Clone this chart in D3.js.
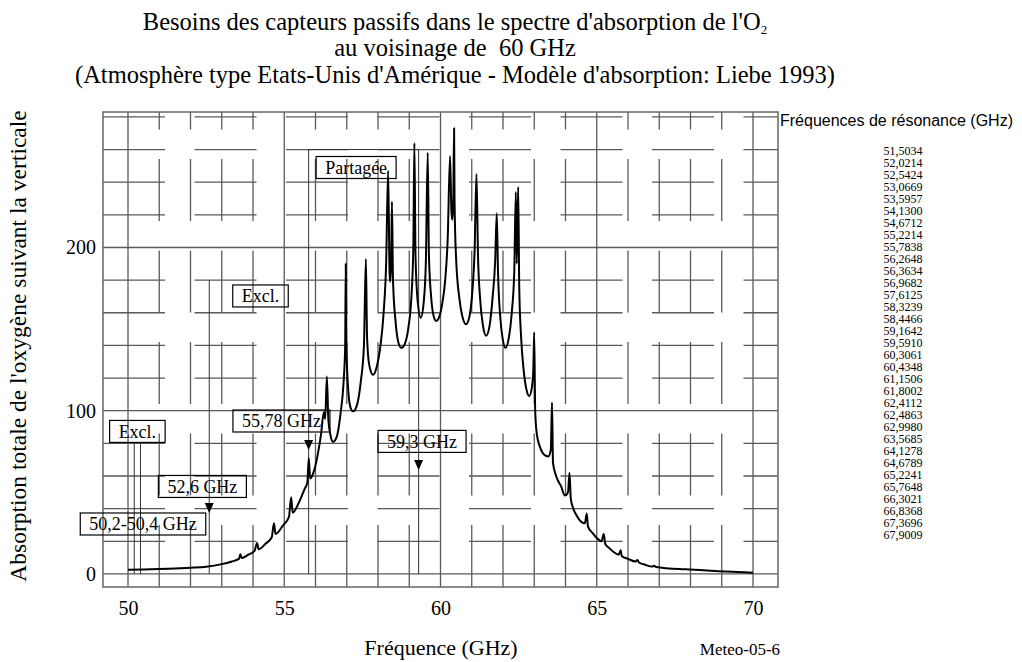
<!DOCTYPE html>
<html>
<head>
<meta charset="utf-8">
<script src="https://cdn.jsdelivr.net/npm/d3@7"></script>
<style>
  body { margin: 0; background: #fff; }
  svg { display: block; }
  text { font-family: "Liberation Serif", "Times New Roman", serif; fill: #000; }
</style>
</head>
<body>
<svg id="chart" width="1022" height="662"></svg>
<script>
// Axis ticks
const xTickValues = [50, 55, 60, 65, 70];
const yTickValues = [0, 100, 200];

// O2 resonance frequencies listed beside the plot (GHz)
const resonanceLines = [
  "51,5034", "52,0214", "52,5424", "53,0669", "53,5957", "54,1300", "54,6712",
  "55,2214", "55,7838", "56,2648", "56,3634", "56,9682", "57,6125", "58,3239",
  "58,4466", "59,1642", "59,5910", "60,3061", "60,4348", "61,1506", "61,8002",
  "62,4112", "62,4863", "62,9980", "63,5685", "64,1278", "64,6789", "65,2241",
  "65,7648", "66,3021", "66,8368", "67,3696", "67,9009"
];

// Zenith oxygen absorption spectrum: frequency (GHz) and total absorption
const spectrumFreq = [
  50.0, 50.5, 51.0, 51.5, 52.0, 52.5, 53.0, 53.3, 53.55, 53.5957, 53.64, 53.85, 54.05, 54.13, 54.18,
  54.4, 54.6, 54.6712, 54.72, 54.95, 55.15, 55.2214, 55.27, 55.45, 55.65, 55.74, 55.7838, 55.83,
  55.95, 56.08, 56.18, 56.2648, 56.31, 56.3634, 56.41, 56.48, 56.56, 56.68, 56.8, 56.9, 56.95,
  56.9682, 56.99, 57.05, 57.12, 57.2, 57.32, 57.45, 57.55, 57.6125, 57.65, 57.72, 57.84, 57.96,
  58.08, 58.18, 58.26, 58.3239, 58.37, 58.39, 58.42, 58.4466, 58.48, 58.56, 58.65, 58.75, 58.86,
  58.98, 59.07, 59.13, 59.1642, 59.2, 59.27, 59.37, 59.46, 59.53, 59.591, 59.63, 59.7, 59.78,
  59.86, 59.95, 60.05, 60.15, 60.23, 60.3061, 60.35, 60.38, 60.41, 60.4348, 60.45, 60.5, 60.61,
  60.71, 60.82, 60.93, 61.03, 61.09, 61.1506, 61.2, 61.27, 61.36, 61.46, 61.57, 61.67, 61.75,
  61.8002, 61.84, 61.91, 61.99, 62.08, 62.18, 62.28, 62.36, 62.4112, 62.44, 62.4863, 62.52, 62.58,
  62.66, 62.75, 62.84, 62.93, 62.97, 62.998, 63.03, 63.08, 63.18, 63.32, 63.45, 63.53, 63.5685,
  63.6, 63.7, 63.86, 63.98, 64.08, 64.1278, 64.17, 64.25, 64.35, 64.5, 64.62, 64.6789, 64.72,
  64.87, 65.0, 65.15, 65.2241, 65.27, 65.4, 65.55, 65.7, 65.7648, 65.8, 66.0, 66.25, 66.3021,
  66.35, 66.55, 66.78, 66.8368, 66.9, 67.3, 67.85, 68.4, 68.9, 69.5, 70.0
];
const spectrumAbs = [
  2.5, 2.7, 3.0, 3.4, 3.8, 4.4, 6.0, 7.5, 9.2, 12, 9.8, 11.8, 14.2, 19, 15.2,
  18.5, 22.5, 31, 24.5, 29.5, 35, 47, 37.5, 43, 52, 56, 71, 58.5,
  63, 74, 86, 99, 95, 121, 95, 85, 81, 84, 98, 118, 140,
  190, 140, 112, 102, 99.6, 103, 118, 140, 193, 145, 128, 122, 127,
  140, 160, 190, 247, 185, 179, 190, 228, 180, 155, 142, 138.5, 141,
  152, 170, 200, 264, 195, 167, 157, 166, 190, 258, 195, 170, 158,
  155, 157, 165, 180, 205, 256, 222, 217, 230, 273, 228, 193, 168,
  157, 153, 158, 176, 197, 245, 195, 168, 152, 146, 152, 170, 192,
  221, 185, 158, 144, 138.5, 144, 160, 185, 234, 190, 237, 175, 145,
  125, 113, 109, 115, 125, 148, 100, 86, 78, 73, 72, 76, 105,
  68, 60, 53.6, 48, 50, 62, 46, 40, 36, 32, 31, 37, 29,
  25, 22, 20, 24.5, 18.5, 15.8, 13.3, 11.8, 14.5, 11, 9.2, 7.6, 8.6,
  7, 5.6, 4.5, 5, 4.2, 3.4, 2.9, 2.2, 1.7, 1.2, 0.8
];

// Passive-sensing band limits (GHz) and the height of their outlines
const bandEdgeFreq = [50.2, 50.4, 52.6, 55.78, 59.3];
const bandEdgeTop = [80, 80, 180, 260, 260];
const sharedBandFreq = [55.78, 59.3];
const sharedBandTop = 260;

// Boxed annotations (centre in frequency / absorption units)
const labelTexts = ["Partagée", "Excl.", "Excl.", "55,78 GHz", "59,3 GHz", "52,6 GHz", "50,2-50,4 GHz"];
const labelFreq = [57.30, 54.24, 50.30, 54.91, 59.41, 52.38, 50.48];
const labelAbs = [249, 170.3, 87.3, 93.7, 81.2, 53.6, 30.6];

// Down-pointing markers at band limits (tip position)
const arrowFreq = [52.6, 55.78, 59.3];
const arrowAbs = [37.3, 75.9, 63.7];

const svg = d3.select("#chart");
const plot = { left: 103, right: 778, top: 112, bottom: 587 };

const x = d3.scaleLinear().domain([49.2, 70.8]).range([plot.left, plot.right]);
const y = d3.scaleLinear().domain([-8, 283]).range([plot.bottom, plot.top]);

// Title
const title = svg.append("g").attr("text-anchor", "middle").style("font-size", "24.5px");
const t1 = title.append("text").attr("x", 455).attr("y", 30);
t1.append("tspan").text("Besoins des capteurs passifs dans le spectre d'absorption de l'O");
t1.append("tspan").attr("dy", 4).style("font-size", "13px").text("2");
title.append("text").attr("x", 455).attr("y", 56).text("au voisinage de  60 GHz").style("white-space", "pre");
title.append("text").attr("x", 455).attr("y", 83)
  .text("(Atmosphère type Etats-Unis d'Amérique - Modèle d'absorption: Liebe 1993)");

// Grid: dashed minor lines, solid major lines
const gridColor = "#5a5a5a";
const grid = svg.append("g");
const minorX = d3.range(50, 71).filter(v => v % 5 !== 0);
const majorX = d3.range(50, 71, 5);
const minorY = d3.range(20, 281, 20).filter(v => v % 100 !== 0);
const majorY = d3.range(0, 201, 100);

grid.selectAll("line.mx").data(minorX).join("line")
  .attr("x1", d => x(d)).attr("x2", d => x(d))
  .attr("y1", plot.bottom).attr("y2", plot.top)
  .attr("stroke", gridColor).attr("stroke-width", 1.3)
  .attr("stroke-dasharray", "62 29.5");
grid.selectAll("line.my").data(minorY).join("line")
  .attr("x1", plot.left).attr("x2", plot.right)
  .attr("y1", d => y(d)).attr("y2", d => y(d))
  .attr("stroke", gridColor).attr("stroke-width", 1.3)
  .attr("stroke-dasharray", "62 29.5");
grid.selectAll("line.MX").data(majorX).join("line")
  .attr("x1", d => x(d)).attr("x2", d => x(d))
  .attr("y1", plot.bottom).attr("y2", plot.top)
  .attr("stroke", gridColor).attr("stroke-width", 1.3);
grid.selectAll("line.MY").data(majorY).join("line")
  .attr("x1", plot.left).attr("x2", plot.right)
  .attr("y1", d => y(d)).attr("y2", d => y(d))
  .attr("stroke", gridColor).attr("stroke-width", 1.3);

svg.append("rect")
  .attr("x", plot.left).attr("y", plot.top)
  .attr("width", plot.right - plot.left).attr("height", plot.bottom - plot.top)
  .attr("fill", "none").attr("stroke", "#666").attr("stroke-width", 1.5);

// Axes
const xAxis = svg.append("g")
  .attr("transform", `translate(0,${plot.bottom})`)
  .call(d3.axisBottom(x).tickValues(xTickValues).tickSize(0).tickPadding(14).tickFormat(d3.format("d")));
const yAxis = svg.append("g")
  .attr("transform", `translate(${plot.left},0)`)
  .call(d3.axisLeft(y).tickValues(yTickValues).tickSize(0).tickPadding(7).tickFormat(d3.format("d")));
[xAxis, yAxis].forEach(a => {
  a.select(".domain").remove();
  a.selectAll("text").style("font-family", "'Liberation Serif', serif").style("font-size", "20px").attr("fill", "#000");
});

// Band outlines
const bands = svg.append("g").attr("stroke", "#333").attr("stroke-width", 1).attr("fill", "none");
bands.selectAll("line.edge").data(bandEdgeFreq).join("line")
  .attr("x1", d => x(d)).attr("x2", d => x(d))
  .attr("y1", (d, i) => y(bandEdgeTop[i])).attr("y2", y(0));
bands.append("line")
  .attr("x1", x(sharedBandFreq[0])).attr("x2", x(sharedBandFreq[1]))
  .attr("y1", y(sharedBandTop)).attr("y2", y(sharedBandTop));

// Annotation boxes
const labels = svg.append("g");
labelTexts.forEach((txt, i) => {
  const g = labels.append("g");
  const tx = g.append("text")
    .attr("x", x(labelFreq[i])).attr("y", y(labelAbs[i]))
    .attr("text-anchor", "middle").attr("dy", "0.34em")
    .style("font-size", "18px").text(txt);
  const bb = tx.node().getBBox();
  g.insert("rect", "text")
    .attr("x", bb.x - 9).attr("width", bb.width + 18)
    .attr("y", y(labelAbs[i]) - 11).attr("height", 22)
    .attr("fill", "none").attr("stroke", "#000").attr("stroke-width", 1.2);
});

// Spectrum curve
const line = d3.line().x(i => x(spectrumFreq[i])).y(i => y(spectrumAbs[i])).curve(d3.curveMonotoneX);
svg.append("path")
  .attr("d", line(d3.range(spectrumFreq.length)))
  .attr("fill", "none").attr("stroke", "#000").attr("stroke-width", 2).attr("stroke-linejoin", "round");

// Markers
svg.append("g").selectAll("path").data(arrowFreq).join("path")
  .attr("d", (d, i) => {
    const px = x(d), py = y(arrowAbs[i]);
    return `M${px},${py}L${px - 4.5},${py - 10}L${px + 4.5},${py - 10}Z`;
  })
  .attr("fill", "#000");

// Axis titles and reference
svg.append("text")
  .attr("transform", "translate(26,346) rotate(-90)")
  .attr("text-anchor", "middle").style("font-size", "23.5px")
  .text("Absorption totale de l'oxygène suivant la verticale");
svg.append("text").attr("x", 441).attr("y", 655)
  .attr("text-anchor", "middle").style("font-size", "22px").text("Fréquence (GHz)");
svg.append("text").attr("x", 740).attr("y", 655)
  .attr("text-anchor", "middle").style("font-size", "17px").text("Meteo-05-6");

// Resonance list
svg.append("text").attr("x", 780).attr("y", 126)
  .style("font-family", "'Liberation Sans', Arial, sans-serif").style("font-size", "16px")
  .text("Fréquences de résonance (GHz)");
svg.append("g").selectAll("text").data(resonanceLines).join("text")
  .attr("x", 903).attr("y", (d, i) => 155 + i * 12)
  .attr("text-anchor", "middle").style("font-size", "12px")
  .text(d => d);
</script>
</body>
</html>
